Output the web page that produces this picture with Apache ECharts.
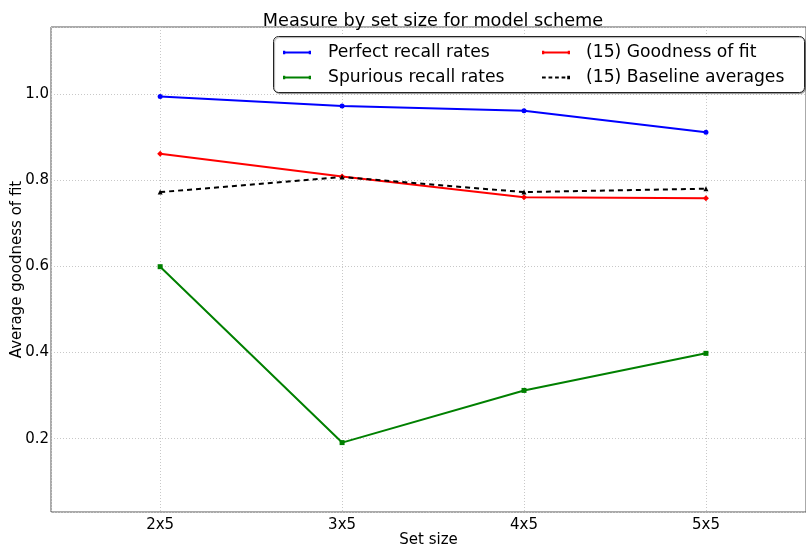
<!DOCTYPE html>
<html>
<head>
<meta charset="utf-8">
<script src="https://cdn.jsdelivr.net/npm/echarts@6/dist/echarts.min.js"></script>
<style>html,body{margin:0;padding:0;background:#fff}#c{width:806px;height:550px}</style>
</head>
<body>
<div id="c"></div>
<script>
const categories = ['2x5', '3x5', '4x5', '5x5'];
const perfectRecall = [0.994, 0.972, 0.961, 0.911];
const spuriousRecall = [0.599, 0.191, 0.312, 0.398];
const goodnessFit = [0.861, 0.808, 0.760, 0.758];
const baselineAvg = [0.772, 0.807, 0.772, 0.780];
const yTicks = [0.2, 0.4, 0.6, 0.8, 1.0];

const FONT = 'DejaVu Sans';
const toPts = arr => arr.map((v, i) => [i, v]);

const iconSolid = 'path://M0,3h30v2h-30z M0,2h2.4v4h-2.4z M27.6,2h2.4v4h-2.4z';
const iconDashed = 'path://M0,3h4v2h-4z M7,3h4v2h-4z M14,3h4v2h-4z M21,3h4v2h-4z M27,2h3v4h-3z';

const chart = echarts.init(document.getElementById('c'), null, {renderer: 'canvas'});
chart.setOption({
  animation: false,
  textStyle: {fontFamily: FONT},
  title: {
    text: 'Measure by set size for model scheme',
    left: 428, top: 7, textAlign: 'center',
    textStyle: {fontFamily: FONT, fontSize: 17.7, fontWeight: 'normal', color: '#000'}
  },
  grid: {left: 51, top: 27, right: 0, bottom: 38, containLabel: false, outerBoundsMode: 'none',
         show: true, borderColor: '#555', borderWidth: 1, backgroundColor: 'transparent'},
  xAxis: {
    type: 'value', min: -0.6, max: 3.55, splitNumber: 4,
    name: 'Set size', nameLocation: 'middle', nameGap: 21, nameMoveOverlap: false,
    nameTextStyle: {fontFamily: FONT, fontSize: 15, color: '#000'},
    axisLine: {show: false}, axisTick: {show: false},
    axisLabel: {
      fontFamily: FONT, fontSize: 15, color: '#000', margin: 6,
      showMinLabel: false, showMaxLabel: false,
      formatter: v => (Math.abs(v - Math.round(v)) < 1e-6 && categories[Math.round(v)] !== undefined) ? categories[Math.round(v)] : ''
    },
    splitLine: {show: true, lineStyle: {color: '#c8c8c8', type: [1, 2], width: 1}}
  },
  yAxis: {
    type: 'value', min: 0.03, max: 1.155, splitNumber: 5,
    name: 'Average goodness of fit', nameLocation: 'middle', nameGap: 26, nameMoveOverlap: false,
    nameTextStyle: {fontFamily: FONT, fontSize: 15, color: '#000'},
    axisLine: {show: false}, axisTick: {show: false},
    axisLabel: {
      fontFamily: FONT, fontSize: 15, color: '#000', margin: 2,
      showMinLabel: false, showMaxLabel: false,
      formatter: v => {
        const t = yTicks.find(t => Math.abs(t - v) < 1e-6);
        return t !== undefined ? t.toFixed(1) : '';
      }
    },
    splitLine: {show: true, lineStyle: {color: '#c8c8c8', type: [1, 2], width: 1}}
  },
  graphic: [{
    type: 'rect', z: 15,
    shape: {x: 273.5, y: 36.5, width: 531, height: 56, r: 5},
    style: {fill: '#fff', stroke: '#222', lineWidth: 1, shadowColor: 'rgba(0,0,0,0.35)', shadowOffsetX: 1, shadowOffsetY: 1, shadowBlur: 1}
  }],
  legend: [{
    z: 20, orient: 'vertical', left: 283, top: 44, itemGap: 8, padding: 0,
    itemWidth: 28, itemHeight: 6,
    textStyle: {fontFamily: FONT, fontSize: 17.2, color: '#000', padding: [0, 0, 0, 12]},
    data: [{name: 'Perfect recall rates', icon: iconSolid}, {name: 'Spurious recall rates', icon: iconSolid}]
  }, {
    z: 20, orient: 'vertical', left: 542, top: 44, itemGap: 8, padding: 0,
    itemWidth: 28, itemHeight: 6,
    textStyle: {fontFamily: FONT, fontSize: 17.2, color: '#000', padding: [0, 0, 0, 11]},
    data: [{name: '(15) Goodness of fit', icon: iconSolid}, {name: '(15) Baseline averages', icon: iconDashed}]
  }],
  series: [
    {name: 'Perfect recall rates', type: 'line', data: toPts(perfectRecall), symbol: 'circle', symbolSize: 5,
     itemStyle: {color: '#0000ff'}, lineStyle: {color: '#0000ff', width: 2}},
    {name: 'Spurious recall rates', type: 'line', data: toPts(spuriousRecall), symbol: 'rect', symbolSize: 5,
     itemStyle: {color: '#008000'}, lineStyle: {color: '#008000', width: 2}},
    {name: '(15) Goodness of fit', type: 'line', data: toPts(goodnessFit), symbol: 'diamond', symbolSize: 6,
     itemStyle: {color: '#ff0000'}, lineStyle: {color: '#ff0000', width: 2}},
    {name: '(15) Baseline averages', type: 'line', data: toPts(baselineAvg), symbol: 'triangle', symbolSize: 5,
     itemStyle: {color: '#000'}, lineStyle: {color: '#000', width: 2, type: [5, 4]}}
  ]
});
</script>
</body>
</html>
